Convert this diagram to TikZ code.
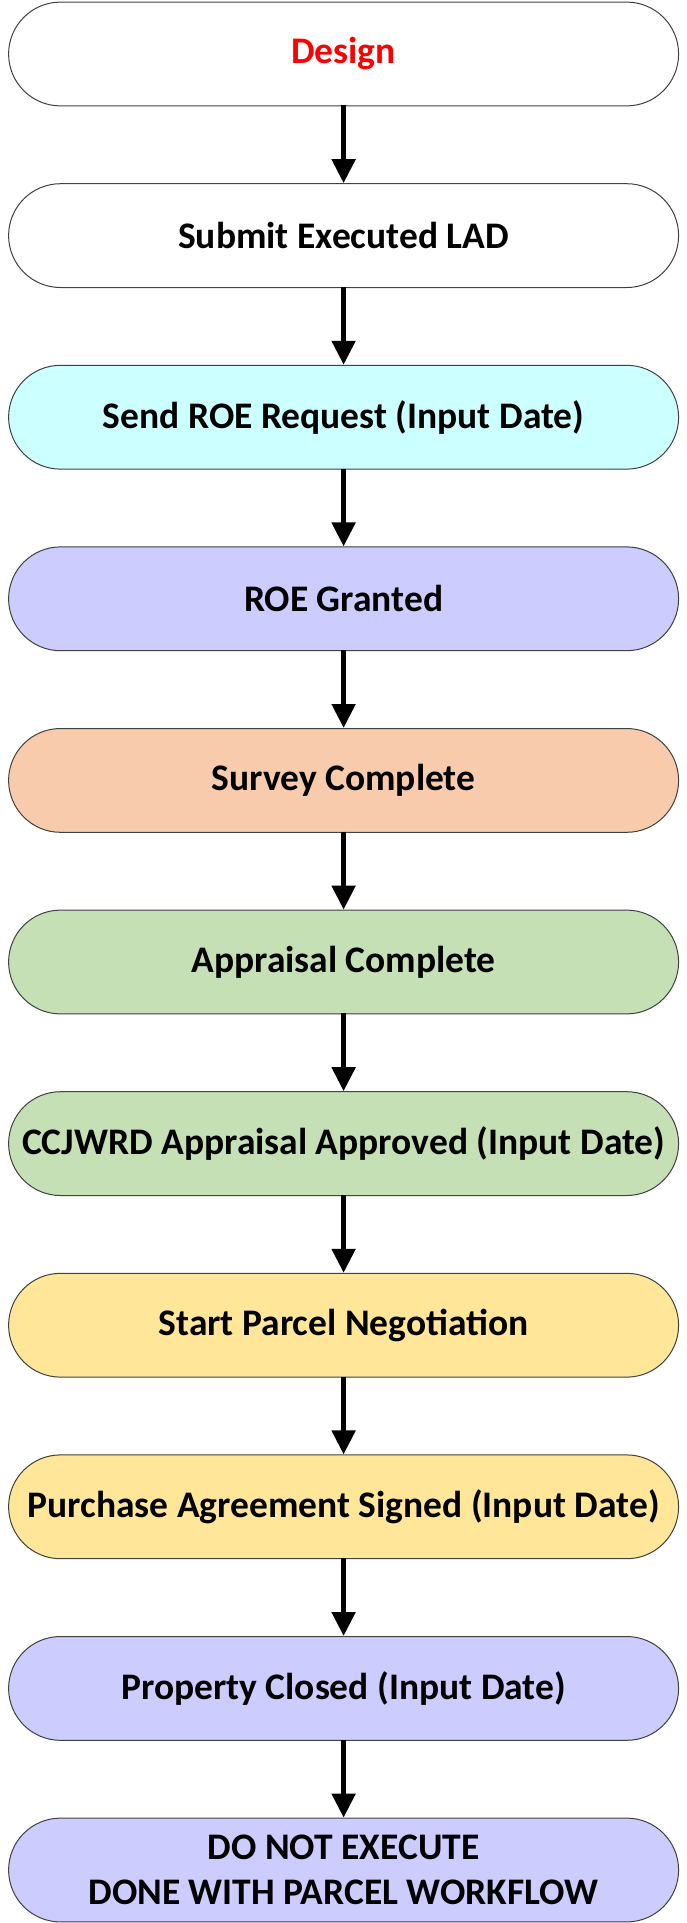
\documentclass[tikz,border=0pt]{standalone}
\usepackage{fontspec}
\setmainfont{Carlito}
\usetikzlibrary{arrows.meta,positioning}
\definecolor{cyanbox}{HTML}{CCFFFF}
\definecolor{lilac}{HTML}{CCCCFF}
\definecolor{peach}{HTML}{F8CBAD}
\definecolor{sage}{HTML}{C5E0B4}
\definecolor{sand}{HTML}{FFE699}
\definecolor{edge}{HTML}{404040}
\tikzset{
  stadium/.style={draw=edge, line width=1pt, rounded corners=51.9pt,
    minimum width=670pt, minimum height=103.8pt, inner sep=0pt,
    font=\fontsize{37.5}{45}\selectfont\bfseries, align=center},
  flow/.style={line width=5pt, -{Triangle[width=23pt,length=24pt]}, shorten <=-1pt}
}
\begin{document}
\begin{tikzpicture}[x=1pt,y=1pt]
\useasboundingbox (0,0) rectangle (686,-1923);
\def\cx{343.6}
\node[stadium, fill=white, text=red] (n1) at (\cx,-54) {Design};
\node[stadium, fill=white] (n2) at (\cx,{-54-181.6}) {Submit Executed LAD};
\node[stadium, fill=cyanbox] (n3) at (\cx,{-54-2*181.6}) {Send ROE Request (Input Date)};
\node[stadium, fill=lilac] (n4) at (\cx,{-54-3*181.6}) {ROE Granted};
\node[stadium, fill=peach] (n5) at (\cx,{-54-4*181.6}) {Survey Complete};
\node[stadium, fill=sage] (n6) at (\cx,{-54-5*181.6}) {Appraisal Complete};
\node[stadium, fill=sage] (n7) at (\cx,{-54-6*181.6}) {CCJWRD Appraisal Approved (Input Date)};
\node[stadium, fill=sand] (n8) at (\cx,{-54-7*181.6}) {Start Parcel Negotiation};
\node[stadium, fill=sand] (n9) at (\cx,{-54-8*181.6}) {Purchase Agreement Signed (Input Date)};
\node[stadium, fill=lilac] (n10) at (\cx,{-54-9*181.6}) {Property Closed (Input Date)};
\node[stadium, fill=lilac] (n11) at (\cx,{-54-10*181.6}) {DO NOT EXECUTE\\DONE WITH PARCEL WORKFLOW};
\foreach \a/\b in {n1/n2,n2/n3,n3/n4,n4/n5,n5/n6,n6/n7,n7/n8,n8/n9,n9/n10,n10/n11}
  \draw[flow] (\a.south) -- (\b.north);
\end{tikzpicture}
\end{document}
